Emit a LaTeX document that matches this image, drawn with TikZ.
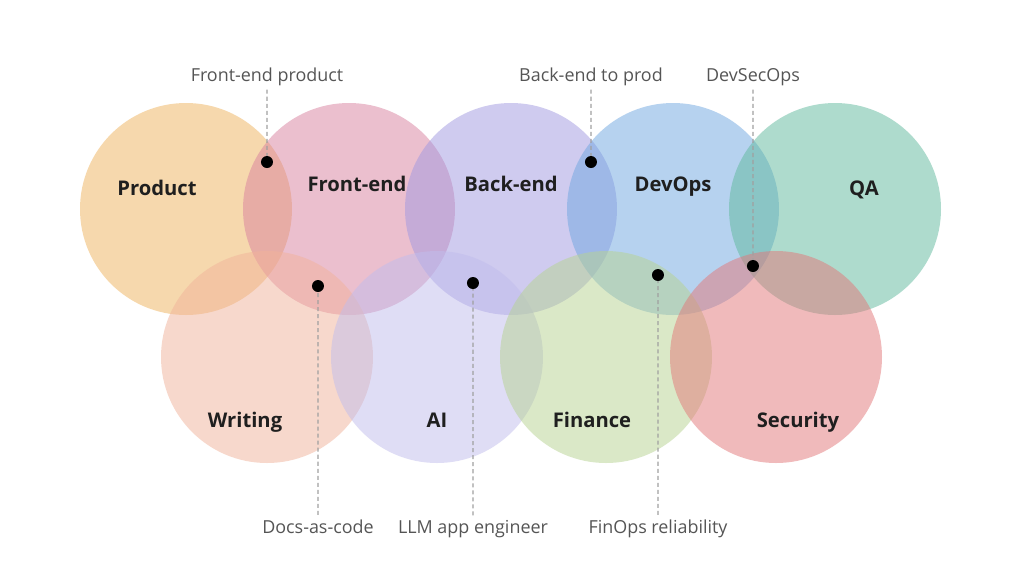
\documentclass[tikz,border=0pt]{standalone}
\usepackage{fontspec}
\setmainfont{Open Sans}
\usetikzlibrary{positioning}

\definecolor{productc}{RGB}{239,179,93}
\definecolor{frontc}{RGB}{217,129,159}
\definecolor{backc}{RGB}{161,153,225}
\definecolor{devopsc}{RGB}{111,167,225}
\definecolor{qac}{RGB}{95,185,157}
\definecolor{writingc}{RGB}{241,179,155}
\definecolor{aic}{RGB}{193,189,237}
\definecolor{financec}{RGB}{183,211,145}
\definecolor{securityc}{RGB}{227,119,121}
\definecolor{roletext}{RGB}{85,85,85}
\definecolor{leadgray}{RGB}{160,160,160}

\begin{document}
\begin{tikzpicture}[scale=0.2]
	\tikzstyle{every node}+=[inner sep=0pt]
	\tikzstyle{area}=[fill opacity=0.5]
	\tikzstyle{field}=[anchor=base, font=\fontsize{11.5}{14}\selectfont\bfseries, text=black!88]
	\tikzstyle{role}=[anchor=base, font=\fontsize{10.2}{12}\selectfont, text=roletext, outer sep=2.5pt]
	\tikzstyle{lead}=[draw=leadgray, line width=0.6pt, dash pattern=on 2.3pt off 1.7pt]
	\useasboundingbox [fill=white] (0,0) rectangle (102.4,-57.6);
	% top row
	\fill [productc, area] (18.6,-20.9) circle (10.6);
	\fill [frontc, area] (34.9,-20.9) circle (10.6);
	\fill [backc, area] (51.1,-20.9) circle (10.6);
	\fill [devopsc, area] (67.3,-20.9) circle (10.6);
	\fill [qac, area] (83.5,-20.9) circle (10.6);
	% bottom row
	\fill [writingc, area] (26.7,-35.7) circle (10.6);
	\fill [aic, area] (43.7,-35.7) circle (10.6);
	\fill [financec, area] (60.6,-35.7) circle (10.6);
	\fill [securityc, area] (77.6,-35.7) circle (10.6);
	% fields
	\node [field] (product) at (15.7,-19.5) {Product};
	\node [field] (frontend) at (35.7,-19.1) {Front-end};
	\node [field] (backend) at (51.1,-19.1) {Back-end};
	\node [field] (devops) at (67.3,-19.1) {DevOps};
	\node [field] (qa) at (86.4,-19.5) {QA};
	\node [field] (writing) at (24.5,-42.7) {Writing};
	\node [field] (ai) at (43.7,-42.7) {AI};
	\node [field] (finance) at (59.2,-42.7) {Finance};
	\node [field] (security) at (79.8,-42.7) {Security};
	% overlap roles
	\coordinate (fpdot) at (26.7,-16.2);
	\coordinate (bpdot) at (59.1,-16.2);
	\coordinate (dsdot) at (75.3,-26.6);
	\coordinate (dcdot) at (31.8,-28.6);
	\coordinate (lldot) at (47.3,-28.3);
	\coordinate (fodot) at (65.8,-27.5);
	\node [role] (fp) at (26.7,-8.1) {Front-end product};
	\node [role] (bp) at (59.1,-8.1) {Back-end to prod};
	\node [role] (ds) at (75.3,-8.1) {DevSecOps};
	\node [role] (dc) at (31.8,-53.3) {Docs-as-code};
	\node [role] (ll) at (47.3,-53.3) {LLM app engineer};
	\node [role] (fo) at (65.8,-53.3) {FinOps reliability};
	\draw [lead] (fp) -- (fpdot);
	\draw [lead] (bp) -- (bpdot);
	\draw [lead] (ds) -- (dsdot);
	\draw [lead] (dc) -- (dcdot);
	\draw [lead] (ll) -- (lldot);
	\draw [lead] (fo) -- (fodot);
	\fill [black] (fpdot) circle (0.6);
	\fill [black] (bpdot) circle (0.6);
	\fill [black] (dsdot) circle (0.6);
	\fill [black] (dcdot) circle (0.6);
	\fill [black] (lldot) circle (0.6);
	\fill [black] (fodot) circle (0.6);
\end{tikzpicture}
\end{document}
